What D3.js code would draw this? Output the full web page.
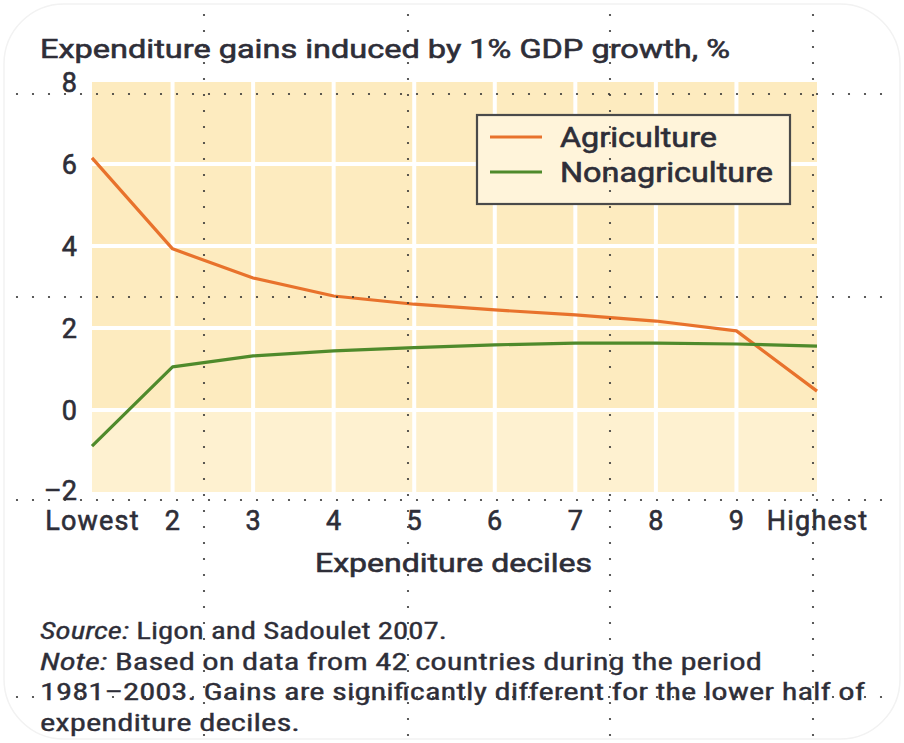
<!DOCTYPE html>
<html>
<head>
<meta charset="utf-8">
<script src="https://cdn.jsdelivr.net/npm/d3@7"></script>
<style>
  body { margin: 0; background: #fff; }
  svg { display: block; font-family: Roboto, "Liberation Sans", sans-serif; }
  .semi { stroke: #2e2e38; stroke-width: 0.6px; }
</style>
</head>
<body>
<svg id="chart" width="904" height="743"></svg>
<script>
"use strict";

// data
const deciles = ["Lowest", "2", "3", "4", "5", "6", "7", "8", "9", "Highest"];
const agriculture = [6.15, 3.93, 3.22, 2.78, 2.58, 2.44, 2.32, 2.17, 1.93, 0.46];
const nonagriculture = [-0.88, 1.05, 1.32, 1.44, 1.52, 1.59, 1.63, 1.63, 1.61, 1.56];
const yTicks = [-2, 0, 2, 4, 6, 8];
const seriesNames = ["Agriculture", "Nonagriculture"];

const svg = d3.select("#chart");
const ink = "#2e2e38";

const x = d3.scalePoint().domain(deciles).range([92, 817]);
const y = d3.scaleLinear().domain([-2, 8]).range([492, 82]);

// faint page border
svg.append("rect")
    .attr("x", 4).attr("y", 4).attr("width", 896).attr("height", 735)
    .attr("rx", 60)
    .attr("fill", "none").attr("stroke", "#f2f2f2").attr("stroke-width", 1.5);

// plot background: above zero darker, below zero lighter
svg.append("rect")
    .attr("x", x.range()[0]).attr("y", y(8))
    .attr("width", x.range()[1] - x.range()[0]).attr("height", y(0) - y(8))
    .attr("fill", "#fdebbf");
svg.append("rect")
    .attr("x", x.range()[0]).attr("y", y(0))
    .attr("width", x.range()[1] - x.range()[0]).attr("height", y(-2) - y(0))
    .attr("fill", "#fef1d0");

// white grid
const grid = svg.append("g").attr("stroke", "#fff").attr("stroke-width", 4);
grid.selectAll(".vg")
    .data(deciles.slice(1, -1))
    .enter().append("line")
    .attr("x1", d => x(d)).attr("x2", d => x(d))
    .attr("y1", y(8)).attr("y2", y(-2));
grid.selectAll(".hg")
    .data(yTicks.filter(t => t > -2 && t < 8))
    .enter().append("line")
    .attr("x1", x.range()[0]).attr("x2", x.range()[1])
    .attr("y1", d => y(d)).attr("y2", d => y(d));

// series lines
const line = d3.line()
    .x((d, i) => x(deciles[i]))
    .y(d => y(d));
const colors = ["#e8722c", "#4f8a2b"];
[agriculture, nonagriculture].forEach((s, i) => {
    svg.append("path")
        .datum(s)
        .attr("d", line)
        .attr("fill", "none")
        .attr("stroke", colors[i])
        .attr("stroke-width", 3.2)
        .attr("stroke-linejoin", "round");
});

// y axis labels
const yAxis = svg.append("g")
    .attr("transform", "translate(77,0)")
    .call(d3.axisLeft(y).tickValues(yTicks).tickSize(0).tickPadding(0)
        .tickFormat(d => d < 0 ? "\u2013" + Math.abs(d) : d));
yAxis.select(".domain").remove();
yAxis.selectAll("text")
    .attr("class", "semi")
    .attr("font-size", 27).attr("font-family", "Roboto, sans-serif")
    .attr("fill", ink).attr("dy", d => d < 0 ? "0.28em" : "0.36em");

// x axis labels
const xAxis = svg.append("g")
    .attr("transform", "translate(0,502)")
    .call(d3.axisBottom(x).tickSize(0).tickPadding(0));
xAxis.select(".domain").remove();
xAxis.selectAll("text")
    .attr("class", "semi")
    .attr("font-size", 27).attr("font-family", "Roboto, sans-serif")
    .attr("letter-spacing", 1.2)
    .attr("fill", ink).attr("dy", "1.05em");

// titles
svg.append("text")
    .attr("class", "semi")
    .attr("x", 40).attr("y", 58)
    .attr("font-size", 26).attr("fill", ink)
    .attr("textLength", 690).attr("lengthAdjust", "spacingAndGlyphs")
    .text("Expenditure gains induced by 1% GDP growth, %");

svg.append("text")
    .attr("class", "semi")
    .attr("x", 315).attr("y", 572)
    .attr("font-size", 26).attr("fill", ink)
    .attr("textLength", 277).attr("lengthAdjust", "spacingAndGlyphs")
    .text("Expenditure deciles");

// legend
const legend = svg.append("g");
legend.append("rect")
    .attr("x", 477).attr("y", 115).attr("width", 313).attr("height", 89)
    .attr("fill", "#fff4da").attr("stroke", "#4a4a4a").attr("stroke-width", 2.2);
const legendWidths = [157, 213];
seriesNames.forEach((name, i) => {
    const ly = 137 + i * 35;
    legend.append("line")
        .attr("x1", 490).attr("x2", 542).attr("y1", ly).attr("y2", ly)
        .attr("stroke", colors[i]).attr("stroke-width", 3.2);
    legend.append("text")
        .attr("class", "semi")
        .attr("x", 560).attr("y", ly + 10)
        .attr("font-size", 27).attr("fill", ink)
        .attr("textLength", legendWidths[i]).attr("lengthAdjust", "spacingAndGlyphs")
        .text(name);
});

// notes
const notes = [
    { lead: "Source:", text: " Ligon and Sadoulet 2007.", w: 407 },
    { lead: "Note:", text: " Based on data from 42 countries during the period", w: 722 },
    { lead: "", text: "1981\u20132003. Gains are significantly different for the lower half of", w: 825 },
    { lead: "", text: "expenditure deciles.", w: 260 }
];
notes.forEach((n, i) => {
    const t = svg.append("text")
        .attr("x", 40).attr("y", 639 + i * 30.5)
        .attr("font-size", 24).attr("fill", ink)
        .attr("stroke", ink).attr("stroke-width", 0.3)
        .attr("font-family", "'Liberation Sans Narrow', 'Roboto Condensed', Roboto, sans-serif")
        .attr("textLength", n.w).attr("lengthAdjust", "spacingAndGlyphs");
    if (n.lead) t.append("tspan").attr("font-style", "italic").text(n.lead);
    t.append("tspan").text(n.text);
});

// dotted guide lines over everything
const guides = svg.append("g").attr("fill", "#333");
[94, 297, 500, 697].forEach(gy => {
    guides.selectAll(null)
        .data(d3.range(17, 892, 16))
        .enter().append("circle")
        .attr("cx", d => d).attr("cy", gy).attr("r", 1.1);
});
[204, 408, 610, 813].forEach(gx => {
    guides.selectAll(null)
        .data(d3.range(15, 743, 16))
        .enter().append("circle")
        .attr("cx", gx).attr("cy", d => d).attr("r", 1.1);
});
</script>
</body>
</html>
